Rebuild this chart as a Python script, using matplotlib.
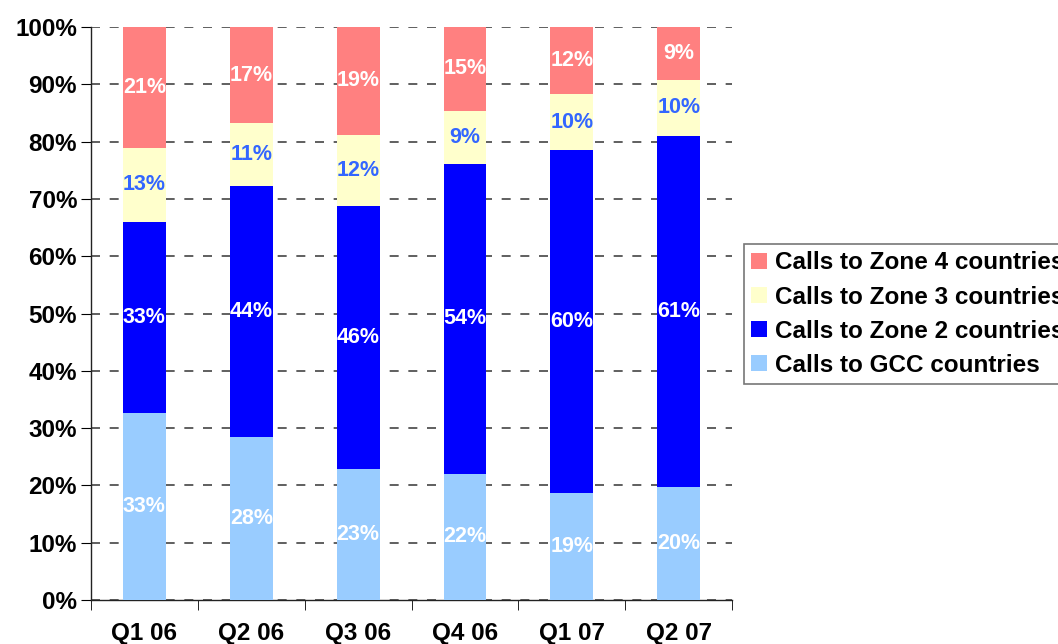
import numpy as np
import matplotlib
matplotlib.use('Agg')
import matplotlib.pyplot as plt
from matplotlib.ticker import FuncFormatter

plt.rcParams.update({
    'font.family': ['Liberation Sans', 'DejaVu Sans'],
    'font.weight': 'bold',
})

quarters = ['Q1 06', 'Q2 06', 'Q3 06', 'Q4 06', 'Q1 07', 'Q2 07']
# share of calls (%), bottom to top of each stacked bar
gcc   = [32.6, 28.4, 22.9, 22.0, 18.6, 19.7]
zone2 = [33.4, 43.9, 45.9, 54.1, 59.9, 61.3]
zone3 = [12.9, 10.9, 12.4,  9.3,  9.8,  9.8]
zone4 = [21.1, 16.8, 18.8, 14.6, 11.7,  9.2]

series = [
    ('Calls to GCC countries',     gcc,   '#99CCFF', 'white'),
    ('Calls to Zone 2 countries',  zone2, '#0000FF', 'white'),
    ('Calls to Zone 3 countries',  zone3, '#FFFFCC', '#3366FF'),
    ('Calls to Zone 4 countries',  zone4, '#FF8080', 'white'),
]

fig = plt.figure(figsize=(10.58, 6.44), dpi=100)
ax = fig.add_axes([0.086, 0.0683, 0.606, 0.8897])

x = np.arange(len(quarters))
bottom = np.zeros(len(quarters))
handles = []
for name, vals, color, txt_color in series:
    vals = np.asarray(vals, dtype=float)
    bars = ax.bar(x, vals, width=0.4, bottom=bottom, color=color,
                  edgecolor='none', label=name, zorder=3)
    handles.append(bars)
    for xi, b, v in zip(x, bottom, vals):
        ax.text(xi, b + v / 2, f'{v:.0f}%', ha='center', va='center',
                color=txt_color, fontsize=15.5, fontweight='bold', zorder=4)
    bottom += vals

ax.set_xlim(-0.5, len(quarters) - 0.5)
ax.set_ylim(0, 100)
ax.set_yticks(np.arange(0, 101, 10))
ax.yaxis.set_major_formatter(FuncFormatter(lambda v, _: f'{v:.0f}%'))
ax.yaxis.grid(True, color='#444444', linestyle=(0, (5.4, 5.8)), linewidth=1.2, zorder=1)

ax.set_xticks(x)
ax.set_xticklabels(quarters)
ax.set_xticks(np.arange(-0.5, len(quarters)), minor=True)
ax.tick_params(axis='x', which='major', length=0, pad=16, labelsize=17.5)
ax.tick_params(axis='x', which='minor', length=7, direction='out')
ax.tick_params(axis='y', length=7, direction='out', labelsize=17.5, pad=3)

for side in ('top', 'right'):
    ax.spines[side].set_visible(False)
for side in ('left', 'bottom'):
    ax.spines[side].set_color('#222222')
    ax.spines[side].set_linewidth(1.0)

# legend sits right of the plot and runs off the figure edge, as in the source
leg = fig.legend(handles[::-1], [s[0] for s in series][::-1],
                 loc='upper left', bbox_to_anchor=(0.703, 0.621),
                 fontsize=17.5, frameon=True, fancybox=False,
                 handlelength=0.65, handleheight=0.65, handletextpad=0.35,
                 labelspacing=0.46, borderpad=0.3, borderaxespad=0.0)
leg.get_frame().set_edgecolor('#555555')
leg.get_frame().set_linewidth(1.2)

fig.savefig('out.png', dpi=100)
